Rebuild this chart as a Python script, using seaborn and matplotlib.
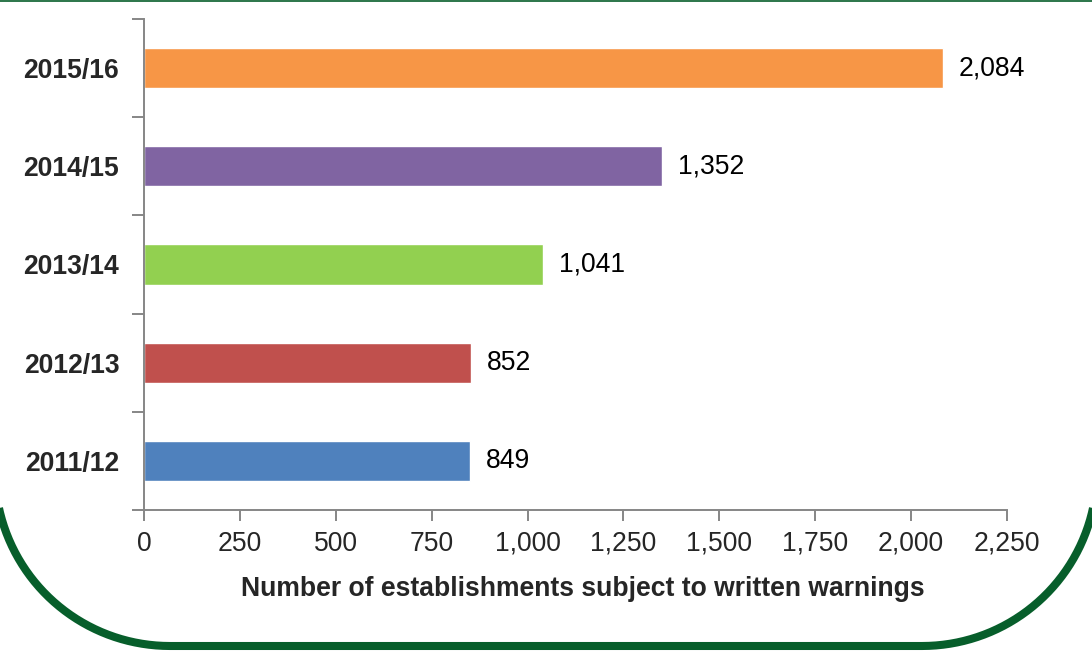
import matplotlib
matplotlib.use("Agg")
import matplotlib.pyplot as plt
import matplotlib.ticker as mticker
import matplotlib.transforms as mtransforms
from matplotlib.patches import PathPatch
from matplotlib.path import Path
from matplotlib.lines import Line2D
import numpy as np
import seaborn as sns
import pandas as pd

years = ["2015/16", "2014/15", "2013/14", "2012/13", "2011/12"]
warnings = [2084, 1352, 1041, 852, 849]
colours = ["#F79646", "#8064A2", "#92D050", "#C0504D", "#4F81BD"]
x_ticks = [0, 250, 500, 750, 1000, 1250, 1500, 1750, 2000, 2250]

sns.set_theme(style="white")
plt.rcParams["font.family"] = ["Liberation Sans", "DejaVu Sans"]

FS = 19.1
GREY = "#868686"
FRAME = "#075E2B"
W, H = 1092, 653

df = pd.DataFrame({"year": years, "count": warnings})

fig = plt.figure(figsize=(W / 100, H / 100), dpi=100)
ax = fig.add_axes([0.1321, 0.219, 0.7898, 0.752])

sns.barplot(data=df, y="year", x="count", hue="year", order=years,
            hue_order=years, palette=colours, orient="h", width=0.41,
            dodge=False, legend=False, saturation=1, ax=ax)

for cont in ax.containers:
    ax.bar_label(cont, labels=[f"{v:,.0f}" for v in cont.datavalues],
                 padding=11.5, fontsize=FS, color="black")

ax.set_xlim(0, 2250)
ax.set_ylim(len(years) - 0.5, -0.5)
ax.xaxis.set_major_locator(mticker.FixedLocator(x_ticks))
ax.xaxis.set_major_formatter(mticker.FuncFormatter(lambda v, p: f"{v:,.0f}"))

# category boundaries carry the y ticks; the labels sit between them
ax.yaxis.set_minor_locator(mticker.FixedLocator([i - 0.5 for i in range(len(years) + 1)]))
ax.tick_params(axis="y", which="major", length=0, pad=18, labelsize=FS)
ax.tick_params(axis="y", which="minor", length=9, width=1.4, color=GREY, direction="out", left=True)
ax.tick_params(axis="x", which="major", length=8, width=1.4, color=GREY, direction="out",
               bottom=True, pad=7, labelsize=FS)
for lab in ax.get_yticklabels():
    lab.set_fontweight("bold")

ax.set_ylabel("")
ax.set_xlabel("Number of establishments subject to written warnings",
              fontsize=FS, fontweight="bold")
ax.xaxis.set_label_coords(0.509, -0.135)

for side in ("top", "right"):
    ax.spines[side].set_visible(False)
for side in ("left", "bottom"):
    ax.spines[side].set_color(GREY)
    ax.spines[side].set_linewidth(1.4)

# rounded green frame, in pixel coordinates measured from the top-left corner
px = mtransforms.Affine2D().scale(1 / W, -1 / H).translate(0, 1) + fig.transFigure
r = 175
left, right, bottom = -5, W + 5, 646
t = np.linspace(0, np.pi / 2, 40)
arc_l = np.column_stack([left + r - r * np.cos(t), bottom - r + r * np.sin(t)])
arc_r = np.column_stack([right - r + r * np.sin(t), bottom - r + r * np.cos(t)])
verts = np.vstack([[[left, -20]], arc_l, arc_r, [[right, -20]]])
frame = PathPatch(Path(verts), transform=px, fill=False, edgecolor=FRAME,
                  linewidth=5.8, capstyle="butt", joinstyle="round")
fig.patches.append(frame)
fig.lines.append(Line2D([0, W], [0.7, 0.7], transform=px, color=FRAME, linewidth=1.2))

fig.savefig("out.png", dpi=100)
